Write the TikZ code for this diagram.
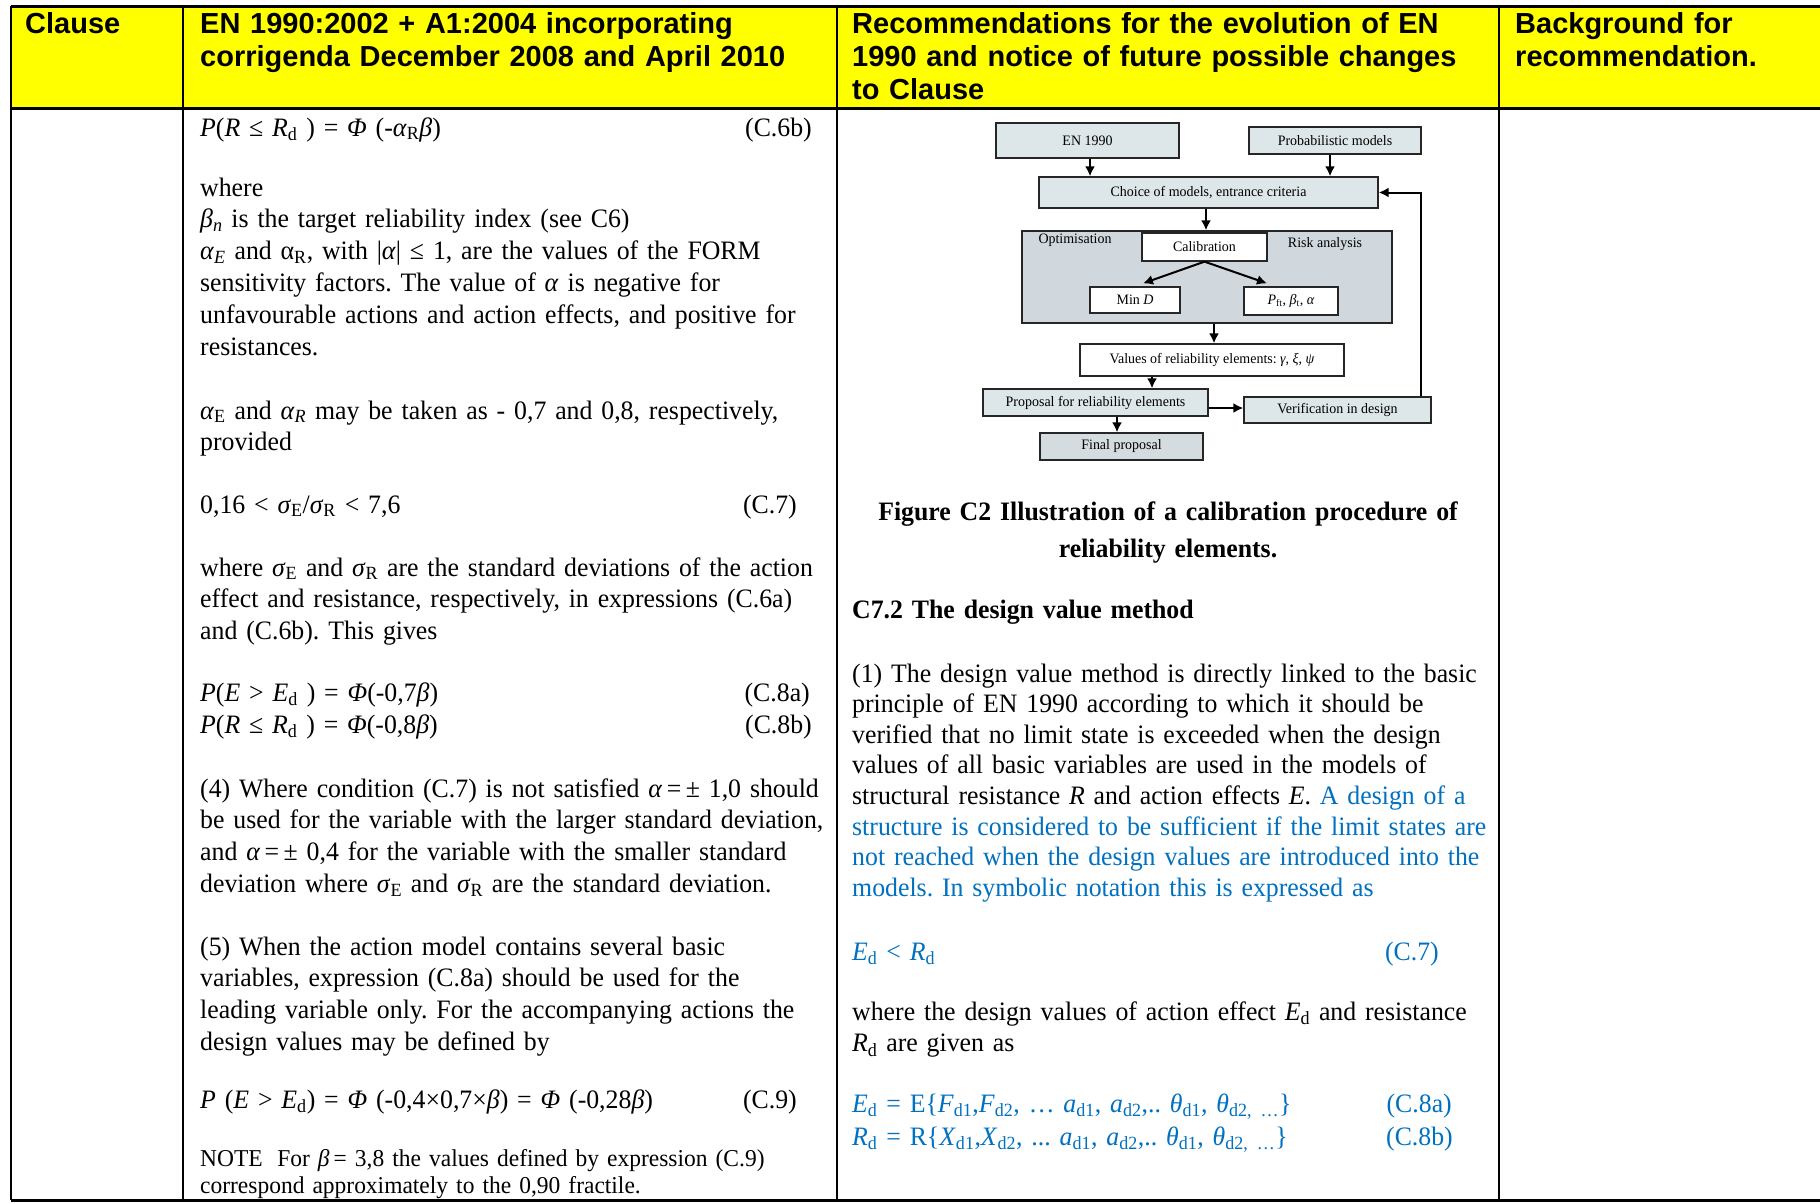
\documentclass[tikz,border=0pt]{standalone}
\usepackage{fontspec}
\setmainfont{Liberation Serif}[FakeStretch=0.97]
\newfontfamily\headfont{Liberation Sans}
\usetikzlibrary{arrows.meta,positioning,calc}
\frenchspacing

\definecolor{hdyellow}{RGB}{255,255,0}
\definecolor{wordblue}{RGB}{0,112,192}
\definecolor{boxfill}{RGB}{221,230,232}
\definecolor{optfill}{RGB}{209,216,221}
\definecolor{finalfill}{RGB}{213,220,224}

\newcommand{\iv}[1]{\textit{#1}}
\newcommand{\sbs}[1]{\textsubscript{#1}}

\tikzset{
  head/.style={anchor=base west, inner sep=0, align=left, text width=660pt,
    font=\headfont\bfseries\fontsize{29}{33.4}\selectfont},
  body/.style={anchor=base west, inner sep=0, align=left, text width=700pt,
    font=\fontsize{26.6}{31.8}\selectfont},
  note/.style={body, font=\fontsize{24.2}{27}\selectfont},
  eqno/.style={anchor=base east, inner sep=0, font=\fontsize{26.6}{31.8}\selectfont},
  capt/.style={anchor=base, inner sep=0, align=center, text width=640pt,
    font=\bfseries\fontsize{26.6}{37}\selectfont},
  flowbox/.style={draw=black!85, line width=1.3pt, inner sep=0,
    font=\fontsize{14.4}{16}\selectfont},
  flowtxt/.style={inner sep=0, font=\fontsize{14.4}{16}\selectfont},
  arr/.style={line width=2pt, -{Latex[length=10pt,width=10pt]}},
}

\begin{document}
\begin{tikzpicture}[x=1pt, y=-1pt]
  \useasboundingbox (0,0) rectangle (1820,1203);

  % table frame
  \fill[hdyellow] (11,6) rectangle (1820,108);
  \draw[line width=3pt] (11,6) -- (1820,6);
  \draw[line width=3pt] (11,108) -- (1820,108);
  \draw[line width=3pt] (11,1200) -- (1820,1200);
  \foreach \cx in {11,183,837,1499}
    \draw[line width=2.5pt] (\cx,6) -- (\cx,1200);

  % header row
  \node[head] (hclause) at (25,33) {Clause};
  \node[head] (hen) at (200,33) {EN 1990:2002 + A1:2004 incorporating\\corrigenda December 2008 and April 2010};
  \node[head] (hrec) at (852,33) {Recommendations for the evolution of EN\\1990 and notice of future possible changes\\to Clause};
  \node[head] (hbg) at (1515,33) {Background for\\recommendation.};

  % EN 1990 column
  \node[body] (eqsixb) at (200,136) {\iv{P}(\iv{R} ≤ \iv{R}\sbs{d} ) = \iv{Φ} (-\iv{α}\sbs{R}\iv{β})};
  \node[eqno] (nsixb) at (812,136) {(C.6b)};
  \node[body] (pwhere) at (200,196) {where\\
    \iv{β}\sbs{\iv{n}} is the target reliability index (see C6)\\
    \iv{α}\sbs{\iv{E}} and α\sbs{R}, with |\iv{α}| ≤ 1, are the values of the FORM\\
    sensitivity factors. The value of \iv{α} is negative for\\
    unfavourable actions and action effects, and positive for\\
    resistances.};
  \node[body] (ptaken) at (200,419) {\iv{α}\sbs{E} and \iv{α}\sbs{\iv{R}} may be taken as - 0,7 and 0,8, respectively,\\provided};
  \node[body] (eqseven) at (200,513) {0,16 < \iv{σ}\sbs{E}/\iv{σ}\sbs{R} < 7,6};
  \node[eqno] (nseven) at (797,513) {(C.7)};
  \node[body] (psigma) at (200,576) {where \iv{σ}\sbs{E} and \iv{σ}\sbs{R} are the standard deviations of the action\\
    effect and resistance, respectively, in expressions (C.6a)\\
    and (C.6b). This gives};
  \node[body] (eqeighta) at (200,701) {\iv{P}(\iv{E} > \iv{E}\sbs{d} ) = \iv{Φ}(-0,7\iv{β})};
  \node[eqno] (neighta) at (810,701) {(C.8a)};
  \node[body] (eqeightb) at (200,733) {\iv{P}(\iv{R} ≤ \iv{R}\sbs{d} ) = \iv{Φ}(-0,8\iv{β})};
  \node[eqno] (neightb) at (812,733) {(C.8b)};
  \node[body] (pfour) at (200,797) {(4) Where condition (C.7) is not satisfied \iv{α}\,=\,± 1,0 should\\
    be used for the variable with the larger standard deviation,\\
    and \iv{α}\,=\,± 0,4 for the variable with the smaller standard\\
    deviation where \iv{σ}\sbs{E} and \iv{σ}\sbs{R} are the standard deviation.};
  \node[body] (pfive) at (200,955) {(5) When the action model contains several basic\\
    variables, expression (C.8a) should be used for the\\
    leading variable only. For the accompanying actions the\\
    design values may be defined by};
  \node[body] (eqnine) at (200,1108) {\iv{P} (\iv{E} > \iv{E}\sbs{d}) = \iv{Φ} (-0,4×0,7×\iv{β}) = \iv{Φ} (-0,28\iv{β})};
  \node[eqno] (nnine) at (797,1108) {(C.9)};
  \node[note] (pnote) at (200,1166) {NOTE\hspace{0.6em}For \iv{β}\,= 3,8 the values defined by expression (C.9)\\
    correspond approximately to the 0,90 fractile.};

  % calibration flowchart
  \node[flowbox, fill=boxfill, minimum width=183, minimum height=35] (en) at (1087.5,140.5) {EN 1990};
  \node[flowbox, fill=boxfill, minimum width=172, minimum height=27] (prob) at (1335,140.5) {Probabilistic models};
  \node[flowbox, fill=boxfill, minimum width=339, minimum height=31] (choice) at (1208.5,192.5) {Choice of models, entrance criteria};
  \node[flowbox, fill=optfill, minimum width=370, minimum height=92] (opt) at (1207,277) {};
  \node[flowtxt] (optlbl) at (1075,240) {Optimisation};
  \node[flowtxt] (risklbl) at (1325,244) {Risk analysis};
  \node[flowbox, fill=white, minimum width=125, minimum height=28] (calib) at (1204.5,247) {Calibration};
  \node[flowbox, fill=white, minimum width=90, minimum height=26] (mind) at (1135,300) {Min \iv{D}};
  \node[flowbox, fill=white, minimum width=94, minimum height=28] (pft) at (1291,301) {\iv{P}\sbs{ft}, \iv{β}\sbs{t}, \iv{α}};
  \node[flowbox, fill=white, minimum width=264, minimum height=32] (vals) at (1212,360) {Values of reliability elements: \iv{γ}, \iv{ξ}, \iv{ψ}};
  \node[flowbox, fill=boxfill, minimum width=225, minimum height=27] (prop) at (1095.5,402.5) {Proposal for reliability elements};
  \node[flowbox, fill=boxfill, minimum width=187, minimum height=26] (verif) at (1337.5,410) {Verification in design};
  \node[flowbox, fill=finalfill, minimum width=163, minimum height=27] (final) at (1121.5,446.5) {Final proposal};

  \draw[arr] ([xshift=2.5]en.south) -- ([xshift=2.5]en.south |- choice.north);
  \draw[arr] ([xshift=-5]prob.south) -- ([xshift=-5]prob.south |- choice.north);
  \draw[arr] ([xshift=-2.5]choice.south) -- ([xshift=-2.5]choice.south |- opt.north);
  \draw[arr] (calib.south) -- ([xshift=8,yshift=3]mind.north);
  \draw[arr] (calib.south) -- ([xshift=-24,yshift=3]pft.north);
  \draw[arr] ([xshift=2]vals.north |- opt.south) -- ([xshift=2]vals.north);
  \draw[arr] ([xshift=-60]vals.south) -- ([xshift=-60]vals.south |- prop.north);
  \draw[arr] ([yshift=-5.5]prop.east) -- ([yshift=-5.5]prop.east -| verif.west);
  \draw[arr] ([xshift=21.5]prop.south) -- ([xshift=21.5]prop.south |- final.north);
  \draw[arr] ([xshift=83.5]verif.north) |- (choice.east);

  % recommendation column
  \node[capt] (caption) at (1168,520) {Figure C2 Illustration of a calibration procedure of\\reliability elements.};
  \node[body, font=\bfseries\fontsize{26.6}{31.8}\selectfont] (cseventwo) at (852,618) {C7.2 The design value method};
  \node[body, font=\fontsize{26.6}{30.6}\selectfont] (pone) at (852,682) {(1) The design value method is directly linked to the basic\\
    principle of EN 1990 according to which it should be\\
    verified that no limit state is exceeded when the design\\
    values of all basic variables are used in the models of\\
    structural resistance \iv{R} and action effects \iv{E}. \textcolor{wordblue}{A design of a}\\
    \textcolor{wordblue}{structure is considered to be sufficient if the limit states are}\\
    \textcolor{wordblue}{not reached when the design values are introduced into the}\\
    \textcolor{wordblue}{models. In symbolic notation this is expressed as}};
  \node[body, text=wordblue] (eqedrd) at (852,960) {\iv{E}\sbs{d} < \iv{R}\sbs{d}};
  \node[eqno, text=wordblue] (nedrd) at (1439,960) {(C.7)};
  \node[body] (pgiven) at (852,1020) {where the design values of action effect \iv{E}\sbs{d} and resistance\\
    \iv{R}\sbs{d} are given as};
  \node[body, text=wordblue] (eqed) at (852,1112) {\iv{E}\sbs{d} = E\{\iv{F}\sbs{d1},\iv{F}\sbs{d2}, … \iv{a}\sbs{d1}, \iv{a}\sbs{d2},.. \iv{θ}\sbs{d1}, \iv{θ}\sbs{d2, …}\}};
  \node[eqno, text=wordblue] (ned) at (1452,1112) {(C.8a)};
  \node[body, text=wordblue] (eqrd) at (852,1145) {\iv{R}\sbs{d} = R\{\iv{X}\sbs{d1},\iv{X}\sbs{d2}, ... \iv{a}\sbs{d1}, \iv{a}\sbs{d2},.. \iv{θ}\sbs{d1}, \iv{θ}\sbs{d2, …}\}};
  \node[eqno, text=wordblue] (nrd) at (1453,1145) {(C.8b)};
\end{tikzpicture}
\end{document}
